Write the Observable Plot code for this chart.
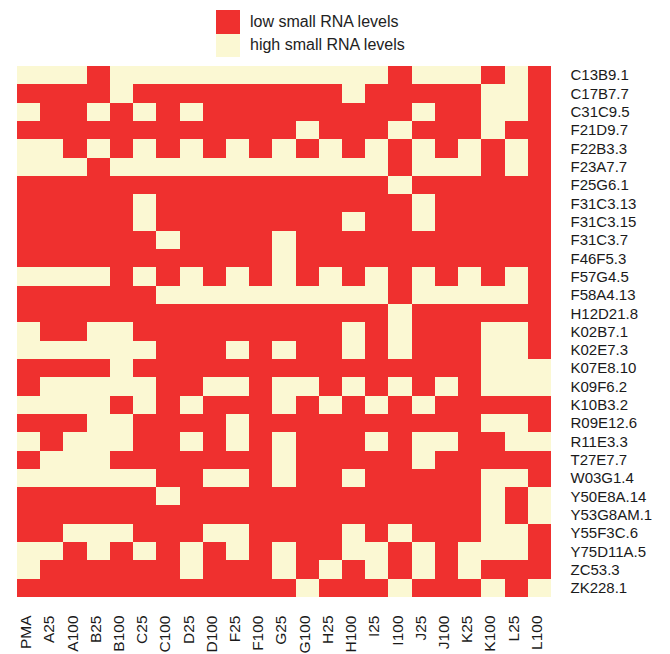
<!DOCTYPE html>
<html>
<head>
<meta charset="utf-8">
<script src="https://cdn.jsdelivr.net/npm/d3@7"></script>
<script src="https://cdn.jsdelivr.net/npm/@observablehq/plot@0.6"></script>
<style>
  html, body { margin: 0; padding: 0; background: #fff; }
  #wrap { position: relative; width: 670px; height: 654px; overflow: hidden; font-family: "Liberation Sans", Arial, Helvetica, sans-serif; }
  #legend { position: absolute; left: 216px; top: 10px; }
  .item { display: flex; align-items: center; height: 23.5px; }
  .sw { width: 24px; height: 23.5px; margin-right: 10px; }
  .lab { font-size: 16px; color: #222; }
</style>
</head>
<body>
<div id="wrap"><div id="legend"></div></div>
<script>
const conditions = ["PMA","A25","A100","B25","B100","C25","C100","D25","D100","F25","F100","G25","G100","H25","H100","I25","I100","J25","J100","K25","K100","L25","L100"];
const genes = ["C13B9.1","C17B7.7","C31C9.5","F21D9.7","F22B3.3","F23A7.7","F25G6.1","F31C3.13","F31C3.15","F31C3.7","F46F5.3","F57G4.5","F58A4.13","H12D21.8","K02B7.1","K02E7.3","K07E8.10","K09F6.2","K10B3.2","R09E12.6","R11E3.3","T27E7.7","W03G1.4","Y50E8A.14","Y53G8AM.1","Y55F3C.6","Y75D11A.5","ZC53.3","ZK228.1"];
const levelNames = ["low small RNA levels", "high small RNA levels"];
const levelColors = ["#EF302F", "#FBF8D3"];
// 1 = low small RNA levels, 0 = high small RNA levels (one array per gene, in condition order)
const lowLevels = [
  [0,0,0,1,0,0,0,0,0,0,0,0,0,0,0,0,1,0,0,0,1,0,1],
  [1,1,1,1,0,1,1,1,1,1,1,1,1,1,0,1,1,1,1,1,0,0,1],
  [0,1,1,0,1,0,1,0,1,1,1,1,1,1,1,1,1,0,1,1,0,0,1],
  [1,1,1,1,1,1,1,1,1,1,1,1,0,1,1,1,0,1,1,1,0,1,1],
  [0,0,1,0,1,0,1,0,1,0,1,0,1,0,1,0,1,0,1,0,1,0,1],
  [0,0,0,1,0,0,0,0,0,0,0,0,0,0,0,0,1,0,0,0,1,0,1],
  [1,1,1,1,1,1,1,1,1,1,1,1,1,1,1,1,0,1,1,1,1,1,1],
  [1,1,1,1,1,0,1,1,1,1,1,1,1,1,1,1,1,0,1,1,1,1,1],
  [1,1,1,1,1,0,1,1,1,1,1,1,1,1,0,1,1,0,1,1,1,1,1],
  [1,1,1,1,1,1,0,1,1,1,1,0,1,1,1,1,1,1,1,1,1,1,1],
  [1,1,1,1,1,1,1,1,1,1,1,0,1,1,1,1,1,1,1,1,1,1,1],
  [0,0,0,0,1,0,1,0,1,0,1,0,1,0,1,0,1,0,1,0,1,0,1],
  [1,1,1,1,1,1,0,0,0,0,0,0,0,0,0,0,1,0,0,0,0,0,1],
  [1,1,1,1,1,1,1,1,1,1,1,1,1,1,1,1,0,1,1,1,1,1,1],
  [0,1,1,0,0,1,1,1,1,1,1,1,1,1,0,1,0,1,1,1,0,0,1],
  [0,0,0,0,0,0,1,1,1,0,1,0,1,1,0,1,0,1,1,1,0,0,1],
  [1,1,1,1,0,1,1,1,1,1,1,1,1,1,1,1,1,1,1,1,0,0,0],
  [1,0,0,0,0,0,1,1,0,0,1,0,0,1,0,1,0,1,0,1,0,0,0],
  [0,0,0,0,1,0,1,0,1,1,1,0,1,0,1,0,1,0,1,1,1,1,1],
  [1,1,1,0,0,1,1,1,1,0,1,1,1,1,1,1,1,1,1,1,0,0,1],
  [0,1,0,0,0,1,1,0,1,0,1,0,1,1,1,0,1,0,0,1,1,0,0],
  [1,0,0,0,1,1,1,1,1,1,1,0,1,1,1,1,1,0,1,1,1,1,1],
  [0,0,0,0,0,0,1,1,0,0,1,0,1,1,0,1,1,1,1,1,0,0,1],
  [1,1,1,1,1,1,0,1,1,1,1,1,1,1,1,1,1,1,1,1,0,1,0],
  [1,1,1,1,1,1,1,1,1,1,1,1,1,1,1,1,1,1,1,1,0,1,0],
  [1,1,0,0,0,1,1,1,0,0,1,1,1,1,0,1,0,1,1,1,0,0,1],
  [0,0,1,0,1,0,1,0,1,0,1,0,1,1,0,0,1,0,1,0,0,0,1],
  [0,1,1,1,1,1,1,0,1,1,1,0,1,0,1,0,1,0,1,0,1,1,1],
  [1,1,1,1,1,1,1,1,1,1,1,1,0,1,1,1,0,1,1,1,0,1,0]
];

const cells = [];
genes.forEach((g, i) => conditions.forEach((c, j) => {
  cells.push({gene: g, condition: c, level: lowLevels[i][j] ? levelNames[0] : levelNames[1]});
}));

const chart = Plot.plot({
  width: 670,
  height: 654,
  marginLeft: 17,
  marginRight: 119,
  marginTop: 66,
  marginBottom: 57,
  style: {fontFamily: "'Liberation Sans', Arial, Helvetica, sans-serif", color: "#1a1a1a", background: "transparent"},
  x: {domain: conditions, padding: 0, round: false},
  y: {domain: genes, padding: 0, round: false},
  color: {domain: levelNames, range: levelColors},
  marks: [
    Plot.cell(cells, {x: "condition", y: "gene", fill: "level", inset: 0, shapeRendering: "crispEdges"}),
    Plot.axisY({anchor: "right", tickSize: 0, tickPadding: 19, fontSize: 15, label: null}),
    Plot.axisX({anchor: "bottom", tickSize: 0, tickPadding: 18, tickRotate: -90, fontSize: 15.5, dx: -3, label: null})
  ]
});
chart.style.position = "absolute";
chart.style.left = "0px";
chart.style.top = "0px";
document.getElementById("wrap").prepend(chart);

const legend = document.getElementById("legend");
levelNames.forEach((name, i) => {
  const item = document.createElement("div");
  item.className = "item";
  const sw = document.createElement("div");
  sw.className = "sw";
  sw.style.background = levelColors[i];
  const lab = document.createElement("div");
  lab.className = "lab";
  lab.textContent = name;
  item.appendChild(sw);
  item.appendChild(lab);
  legend.appendChild(item);
});
</script>
</body>
</html>
